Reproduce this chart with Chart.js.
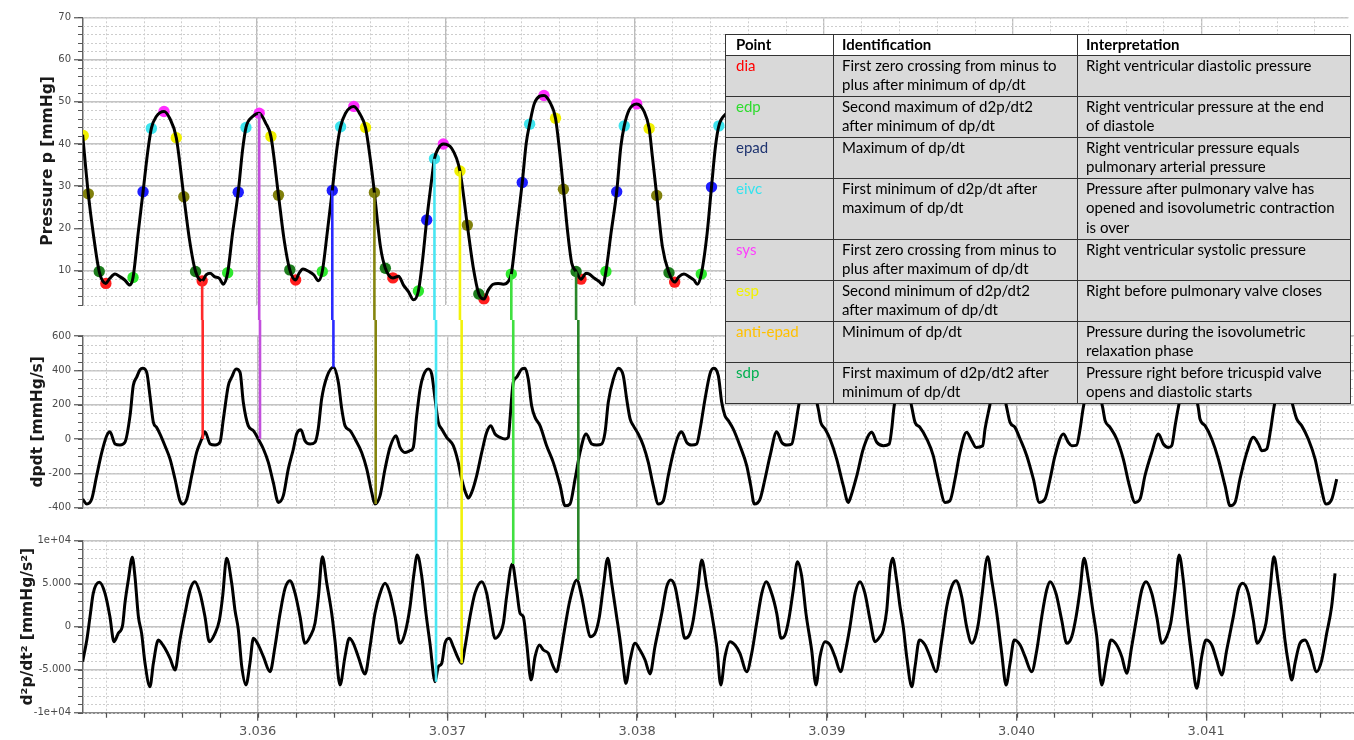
<!DOCTYPE html>
<html>
<head>
<meta charset="utf-8">
<script src="https://cdn.jsdelivr.net/npm/chart.js@4.4.1/dist/chart.umd.min.js"></script>
<style>
  body { margin: 0; background: #fff; width: 1354px; height: 740px; overflow: hidden; position: relative; }
  canvas { position: absolute; left: 0; }
  #pointTable { position: absolute; left: 725px; top: 34px; width: 625px; border-collapse: collapse; table-layout: fixed;
                font-family: Lato, "Open Sans", sans-serif; font-size: 15px; color: #000; z-index: 2; }
  #pointTable th, #pointTable td { border: 1px solid #333; padding: 0 0 0 8px; vertical-align: top; line-height: 19.5px;
                white-space: nowrap; overflow: hidden; text-align: left; }
  #pointTable th { background: #fff; font-weight: bold; }
  #pointTable td { background: #d9d9d9; }
  #pointTable tr > :first-child { padding-left: 10px; }
</style>
</head>
<body>
<canvas id="pressureChart" width="1354" height="320" style="top:0px"></canvas>
<canvas id="dpdtChart" width="1354" height="210" style="top:320px"></canvas>
<canvas id="d2pChart" width="1354" height="210" style="top:530px"></canvas>

<table id="pointTable">
  <colgroup><col style="width:108px"><col style="width:244px"><col style="width:273px"></colgroup>
  <tr style="height:20px"><th>Point</th><th>Identification</th><th>Interpretation</th></tr>
  <tr style="height:41px"><td style="color:#ff0000">dia</td><td>First zero crossing from minus to<br>plus after minimum of dp/dt</td><td>Right ventricular diastolic pressure</td></tr>
  <tr style="height:41px"><td style="color:#2fdc2f">edp</td><td>Second maximum of d2p/dt2<br>after minimum of dp/dt</td><td>Right ventricular pressure at the end<br>of diastole</td></tr>
  <tr style="height:41px"><td style="color:#1f3470">epad</td><td>Maximum of dp/dt</td><td>Right ventricular pressure equals<br>pulmonary arterial pressure</td></tr>
  <tr style="height:61px"><td style="color:#33e3ee">eivc</td><td>First minimum of d2p/dt after<br>maximum of dp/dt</td><td>Pressure after pulmonary valve has<br>opened and isovolumetric contraction<br>is over</td></tr>
  <tr style="height:41px"><td style="color:#ff3cff">sys</td><td>First zero crossing from minus to<br>plus after maximum of dp/dt</td><td>Right ventricular systolic pressure</td></tr>
  <tr style="height:41px"><td style="color:#f2f200">esp</td><td>Second minimum of d2p/dt2<br>after maximum of dp/dt</td><td>Right before pulmonary valve closes</td></tr>
  <tr style="height:41px"><td style="color:#ffc000">anti-epad</td><td>Minimum of dp/dt</td><td>Pressure during the isovolumetric<br>relaxation phase</td></tr>
  <tr style="height:41px"><td style="color:#00b050">sdp</td><td>First maximum of d2p/dt2 after<br>minimum of dp/dt</td><td>Pressure right before tricuspid valve<br>opens and diastolic starts</td></tr>
</table>

<script>
// time axis: every time below is in microseconds after T0 (seconds)
const T0 = 3.035;
const xMin = 3.035079, xMax = 3.041779;
const xTickValues = [3.036, 3.037, 3.038, 3.039, 3.040, 3.041];
const xTickLabels = ['3.036', '3.037', '3.038', '3.039', '3.040', '3.041'];

const pTicks = [10, 20, 30, 40, 50, 60, 70];
const pTickLabels = ['10', '20', '30', '40', '50', '60', '70'];
const dTicks = [-400, -200, 0, 200, 400, 600];
const dTickLabels = ['-400', '-200', '0', '200', '400', '600'];
const ddTicks = [-10000, -5000, 0, 5000, 10000];
const ddTickLabels = ['-1e+04', '-5.000', '0', '5.000', '1e+04'];

// pressure p [mmHg]
const pTime = [77,107,133,165,200,221,248,274,300,327,
  344,371,397,423,441,467,508,538,573,613,
  643,675,710,731,752,775,801,822,845,871,
  901,924,942,977,1012,1047,1074,1114,1144,1174,
  1205,1223,1244,1276,1302,1325,1346,1372,1399,1425,
  1443,1469,1513,1548,1575,1601,1622,1654,1680,1720,
  1750,1776,1803,1829,1855,1877,1899,1925,1940,1961,
  1987,2031,2075,2114,2145,2175,2202,2225,2251,2277,
  2304,2330,2347,2373,2405,2426,2444,2470,2520,2550,
  2581,2602,2623,2646,2667,2690,2716,2743,2760,2787,
  2813,2831,2848,2875,2905,2927,2945,2971,3011,3050,
  3077,3094,3117,3147,3182,3212,3235,3261,3288,3314,
  3332,3353,3384,3407,3428,3446,3490];
const pVal = [42.2,28.2,18.9,9.8,7.0,8.2,9.2,8.6,7.8,6.6,
  8.4,18.9,28.7,38.6,43.7,46.5,47.7,46.1,41.5,27.5,
  17.3,9.8,7.6,9.0,9.4,8.6,8.2,6.8,9.5,18.9,
  28.6,38.6,43.9,46.5,47.3,44.9,41.8,27.9,17.3,10.2,
  7.8,9.4,10.4,9.8,9.0,7.6,9.8,18.9,29.0,39.4,
  44.1,47.3,48.9,46.9,43.9,36.2,28.5,15.7,10.6,8.3,
  8.7,6.6,5.0,3.1,5.2,12.5,22.0,31.5,36.5,39.0,
  40.0,39.0,33.6,20.8,10.9,4.5,3.3,5.4,6.8,7.0,
  6.8,7.4,9.2,18.9,30.9,40.2,44.7,49.7,51.5,50.0,
  46.1,38.6,29.3,18.9,11.8,9.8,8.0,9.4,9.2,8.2,
  7.4,6.6,9.8,18.9,28.7,39.4,44.3,48.1,49.5,47.7,
  43.7,37.0,27.8,15.7,9.5,7.3,8.6,9.2,8.6,7.8,
  6.8,9.2,18.9,29.8,39.4,44.3,47.5];

// dp/dt [mmHg/s]
const dTime = [77,99,125,151,178,204,221,248,274,300,
  327,344,362,380,394,415,432,450,467,485,
  511,538,564,590,605,626,652,678,705,722,
  749,775,801,819,845,863,886,907,924,950,
  977,1003,1030,1056,1082,1109,1135,1161,1188,1205,
  1228,1249,1276,1302,1319,1337,1364,1399,1425,1443,
  1460,1487,1513,1548,1575,1601,1618,1645,1671,1697,
  1729,1750,1776,1803,1820,
  1838,1856,1873,1899,1917,1935,1952,1970,1996,2031,
  2057,2075,2102,2110,2128,2154,2181,2207,2228,2251,
  2277,2304,2321,2330,2347,2365,2392,2409,2426,2444,
  2462,2488,2523,2558,2594,2620,2646,2673,2699,2731,
  2761,2787,2813,2831,2848,2875,2901,2927,2945,2963,
  2980,3006,3033,3059,3085,3112,3138,3164,3191,3217,
  3235,3261,3288,3314,3332,3358,3384,3402,3428,3446,
  3463,3481,3507,3542,3578,3599,3618,3648,3674,3701,
  3736,3762,3789,3815,3832,3850,3897,3955,3968,3991,
  4017,4052,4087,4113,4122,4158,4192,4237,4263,4298,4329,
  4342,4354,4400,4448,4465,4491,4527,4561,4588,4623,
  4649,4676,4702,4737,4764,4787,4822,4834,4857,4901,
  4948,4966,4992,5019,5054,5089,5120,5150,5177,5203,
  5247,5273,5291,5317,5335,5352,5402,5454,5467,5493,
  5528,5563,5595,5625,5651,5677,5713,5748,5774,5800,
  5818,5836,5853,5900,5958,5967,5994,6029,6064,6099,
  6126,6152,6178,6214,6248,6275,6293,6319,6340,6357,
  6407,6459,6477,6503,6538,6574,6600,6632,6662,6688];
const dVal = [-350,-379,-350,-214,-78,19,42,-29,-35,-19,
  136,311,360,404,412,388,252,97,68,29,
  -39,-117,-233,-360,-379,-350,-214,-78,0,42,
  -29,-35,-19,117,311,360,408,388,214,78,
  49,0,-58,-136,-253,-369,-330,-175,-58,29,
  54,-10,-29,-19,58,233,360,418,330,175,
  78,49,0,-78,-175,-311,-379,-330,-175,-49,
  19,-49,-78,-68,-49,
  136,292,369,408,379,233,97,58,10,-39,
  -136,-233,-330,-344,-311,-214,-78,39,78,29,
  10,0,10,117,330,360,408,412,350,194,
  126,78,-39,-136,-272,-389,-379,-233,-78,29,
  -29,-35,-29,39,214,350,412,369,233,117,
  78,29,-39,-136,-272,-379,-360,-214,-78,19,
  42,-19,-35,-29,58,233,379,412,369,214,
  136,107,58,-39,-156,-272,-379,-350,-233,-97,
  42,-19,-35,-29,58,184,410,175,97,58,
  0,-117,-272,-369,-350,-214,-58,39,-19,-39,-29,
  58,184,408,184,97,68,0,-97,-233,-369,
  -360,-233,-78,39,-10,-49,-39,58,184,408,
  184,97,68,0,-97,-233,-369,-350,-233,-97,
  29,-19,-39,-35,58,184,408,184,107,68,
  0,-117,-272,-369,-350,-214,-78,29,-29,-49,
  -39,78,184,408,184,117,78,0,-117,-272,
  -389,-369,-233,-78,10,-29,-68,-58,58,184,
  408,184,117,78,0,-117,-253,-379,-350,-233];

// d2p/dt2 [mmHg/s2]
const ddTime = [77,99,116,133,165,195,221,242,265,288,
  300,318,339,353,371,388,406,432,450,476,
  494,511,538,564,590,617,643,669,696,722,
  745,775,798,815,836,863,880,898,916,938,
  959,977,1003,1030,1065,1091,1118,1144,1170,1197,
  1223,1249,1276,1302,1320,1341,1364,1390,1407,1434,
  1460,1483,1504,1530,1566,1592,1618,1645,1671,1697,
  1724,1750,1776,1803,1824,1841,1865,1887,1908,1935,
  1952,1970,1987,2010,2031,2057,2075,2093,2119,2145,
  2181,2207,2225,2251,2277,2295,2312,2342,2365,2383,
  2400,2418,2441,2462,2485,2506,2532,2558,2576,2594,
  2620,2646,2682,2708,2734,2752,2778,2801,2822,2845,
  2866,2892,2910,2927,2941,2963,2989,3015,3042,3068,
  3094,3130,3156,3177,3200,3226,3252,3279,3296,3319,
  3341,3367,3393,3420,3441,3463,3490,3516,3542,3578,
  3604,3630,3657,3680,3709,3736,3759,3780,3802,3823,
  3845,3868,3890,3920,3943,3964,3991,4017,4043,4073,
  4096,4122,4149,4175,4201,4228,4254,4280,4298,4316,
  4333,4347,4368,4386,4403,4421,4448,4465,4488,4518,
  4544,4576,4606,4632,4658,4681,4711,4737,4764,4781,
  4799,4817,4848,4869,4896,4922,4945,4966,4988,5019,
  5045,5080,5107,5133,5159,5177,5208,5238,5265,5291,
  5314,5335,5356,5379,5402,5423,5449,5475,5498,5528,
  5555,5581,5607,5634,5660,5683,5713,5739,5766,5792,
  5813,5836,5857,5879,5900,5924,5950,5976,5999,6029,
  6055,6082,6108,6143,6169,6192,6222,6248,6269,6292,
  6315,6336,6357,6380,6398,6415,6433,6451,6468,6494,
  6521,6547,6582,6609,6635,6661,6679];
const ddVal = [-4067,-1547,1167,3881,5160,3881,1167,-1741,-772,198,
  2718,5431,8067,5819,1167,-772,-4260,-6974,-4260,-1547,
  -1934,-2516,-3679,-5036,-1547,1555,4268,5237,3881,1167,
  -1741,-772,779,3493,7951,5044,1942,-384,-4648,-6780,
  -4260,-1353,-2128,-3485,-5230,-2322,1555,4462,5354,3881,
  1167,-1934,-1159,392,3493,8145,5044,1555,-1547,-6780,
  -3485,-1353,-1934,-3485,-5500,-2322,1555,3881,5044,3881,
  1167,-1934,-772,2330,6207,8339,5819,1555,-1934,-6393,
  -4648,-4260,-1934,-1353,-2322,-3679,-4260,-2322,1167,3881,
  5237,3881,1555,-1353,-772,392,3493,7300,4268,1555,
  1167,-1934,-6199,-3485,-2128,-2710,-3097,-4648,-5230,-3485,
  4,3105,5431,3493,392,-1159,-772,1167,4656,7951,
  5044,1167,-1547,-4648,-6586,-3873,-1934,-2710,-3873,-5500,
  -2322,1555,4656,5431,4656,1555,-1353,-772,779,4268,
  7757,4656,1555,-2322,-6780,-3485,-1741,-2128,-3097,-5230,
  -3097,392,3881,5237,3881,1555,-1353,-965,1167,4268,
  7563,5819,1555,-2710,-6780,-3485,-1741,-2128,-3485,-5230,
  -3097,4,3881,5237,3881,779,-1741,-1159,-384,1942,
  6594,7951,5431,2330,4,-3485,-6974,-4648,-1547,-2128,
  -3485,-5230,-1547,2330,4656,5354,3493,4,-1934,-1353,
  392,3493,8145,5431,1555,-3097,-6780,-4260,-1547,-2128,
  -3485,-5230,-2710,1167,4268,5237,3881,779,-1934,-1159,
  1167,4268,7951,5431,1942,-1159,-6780,-3873,-1547,-2128,
  -3485,-5423,-2322,1167,4268,5237,3881,1167,-1934,-1159,
  392,4268,8339,5431,779,-3485,-7168,-3485,-1547,-2128,
  -3873,-5617,-2710,1167,4268,5044,3881,779,-1934,-1159,
  392,4268,8145,5044,1942,-1547,-4260,-6199,-4260,-1934,
  -1547,-2710,-5230,-3873,-772,2330,6207];

// feature points on the pressure curve (time µs, pressure mmHg)
const sdpTime = [165,675,1174,1680,2175,2690,3182];
const sdpVal  = [9.8,9.8,10.2,10.6,4.5,9.8,9.5];
const diaTime = [200,710,1205,1720,2202,2716,3212];
const diaVal  = [7.0,7.6,7.8,8.3,3.3,8.0,7.3];
const edpTime = [344,845,1346,1855,2347,2848,3353];
const edpVal  = [8.4,9.5,9.8,5.2,9.2,9.8,9.2];
const epadTime = [397,901,1399,1899,2405,2905,3407];
const epadVal  = [28.7,28.6,29.0,22.0,30.9,28.7,29.8];
const eivcTime = [441,942,1443,1940,2444,2945,3446];
const eivcVal  = [43.7,43.9,44.1,36.5,44.7,44.3,44.3];
const sysTime = [508,1012,1513,1987,2520,3011];
const sysVal  = [47.7,47.3,48.9,40.0,51.5,49.5];
const espTime = [80,573,1074,1575,2075,2581,3077];
const espVal  = [42.0,41.5,41.8,43.9,33.6,46.1,43.7];
const antiEpadTime = [107,613,1114,1622,2114,2623,3117];
const antiEpadVal  = [28.2,27.5,27.9,28.5,20.8,29.3,27.8];

// vertical links: from a pressure point down to the derivative it is defined by
const linkName  = ['dia','sys','epad','antiEpad','eivc','esp','edp','sdp'];
const linkTime  = [710,1012,1399,1622,1940,2075,2347,2690];
const linkFrom  = [7.6,47.3,29.0,28.5,36.5,33.6,9.2,9.8];
const linkPanel = ['dpdt','dpdt','dpdt','dpdt','d2p','d2p','d2p','d2p'];
const linkTo    = [0,0,418,-379,-6400,-4260,7300,5430];

const markColor = { sdp:'#1d7d1d', dia:'#ff1e1e', edp:'#2ee82e', epad:'#1e1eff',
                    eivc:'#3ee4ee', sys:'#ff2eff', esp:'#f0f000', antiEpad:'#80800c' };
const linkColor = { dia:'#ff2a2a', sys:'#c24edc', epad:'#2a2aff', antiEpad:'#85850f',
                    eivc:'#48e6f2', esp:'#f2f20a', edp:'#40e040', sdp:'#2a862a' };

function toXY(ts, vs) {
  return ts.map((t, i) => ({ x: T0 + t * 1e-6, y: vs[i] }));
}

// dotted minor grid + short minor tick marks
const xMinorStep = 0.0002;
const minorGrid = {
  id: 'minorGrid',
  beforeDatasetsDraw(chart, args, opts) {
    const { ctx, chartArea: a, scales: { x, y } } = chart;
    ctx.save();
    ctx.strokeStyle = '#cdcdcd';
    ctx.lineWidth = 1;
    ctx.setLineDash([2, 2]);
    ctx.beginPath();
    for (let k = Math.ceil(x.min / xMinorStep); k * xMinorStep <= x.max; k++) {
      const px = Math.round(x.getPixelForValue(k * xMinorStep)) + 0.5;
      ctx.moveTo(px, a.top); ctx.lineTo(px, a.bottom);
    }
    for (let k = Math.ceil(y.min / opts.yStep); k * opts.yStep <= y.max; k++) {
      const py = Math.round(y.getPixelForValue(k * opts.yStep)) + 0.5;
      ctx.moveTo(a.left, py); ctx.lineTo(a.right, py);
    }
    ctx.stroke();
    ctx.setLineDash([]);
    ctx.strokeStyle = '#555';
    ctx.lineWidth = 1.2;
    ctx.beginPath();
    for (let k = Math.ceil(y.min / opts.yStep); k * opts.yStep <= y.max; k++) {
      const py = Math.round(y.getPixelForValue(k * opts.yStep)) + 0.5;
      ctx.moveTo(a.left - 5, py); ctx.lineTo(a.left, py);
    }
    if (opts.xTicks) {
      for (let k = Math.ceil(x.min / xMinorStep); k * xMinorStep <= x.max; k++) {
        const px = Math.round(x.getPixelForValue(k * xMinorStep)) + 0.5;
        ctx.moveTo(px, a.bottom); ctx.lineTo(px, a.bottom + 5);
      }
    }
    ctx.stroke();
    ctx.restore();
  }
};

// coloured vertical links, drawn right after the curve so the markers sit on top
const links = {
  id: 'links',
  afterDatasetDraw(chart, args, opts) {
    if (args.index !== 0) return;
    const { ctx, scales: { x, y } } = chart;
    const H = chart.height;
    ctx.save();
    ctx.lineWidth = 2.6;
    linkName.forEach((name, i) => {
      const px = x.getPixelForValue(T0 + linkTime[i] * 1e-6);
      let y0, y1;
      if (opts.panel === 'pressure') { y0 = y.getPixelForValue(linkFrom[i]); y1 = H; }
      else if (opts.panel === linkPanel[i]) { y0 = 0; y1 = y.getPixelForValue(linkTo[i]); }
      else if (opts.panel === 'dpdt' && linkPanel[i] === 'd2p') { y0 = 0; y1 = H; }
      else return;
      ctx.strokeStyle = linkColor[name];
      ctx.beginPath(); ctx.moveTo(px, y0); ctx.lineTo(px, y1); ctx.stroke();
    });
    ctx.restore();
  }
};

function curve(data) {
  return { data, borderColor: '#000', borderWidth: 3, pointRadius: 0,
           cubicInterpolationMode: 'monotone', order: 0 };
}

function markers(name, ts, vs) {
  return { data: toXY(ts, vs), showLine: false, pointRadius: 5.7, pointBorderWidth: 0,
           pointBackgroundColor: markColor[name], borderColor: markColor[name] };
}

function makePanel(id, cfg) {
  const canvas = document.getElementById(id);
  const H = canvas.height;
  return new Chart(canvas, {
    type: 'line',
    data: { datasets: cfg.datasets },
    options: {
      responsive: false,
      animation: false,
      events: [],
      layout: { padding: { top: cfg.top, left: 0, right: 0, bottom: 0 } },
      plugins: {
        legend: { display: false },
        tooltip: { enabled: false },
        minorGrid: { yStep: cfg.yStep, xTicks: cfg.xLabels },
        links: { panel: cfg.panel }
      },
      scales: {
        x: {
          type: 'linear', min: xMin, max: xMax,
          afterBuildTicks: ax => { ax.ticks = xTickValues.map(v => ({ value: v })); },
          afterFit: ax => { ax.height = H - cfg.bottom; },
          grid: { color: '#bcbcbc', lineWidth: 1.3, drawTicks: cfg.xLabels, tickLength: 8,
                  tickColor: '#666', tickWidth: 1.3 },
          border: { display: cfg.xLabels, color: '#8a8a8a', width: 2 },
          ticks: { display: cfg.xLabels, callback: (v, i) => xTickLabels[i], maxRotation: 0,
                   font: { family: 'DejaVu Sans', size: 13 }, color: '#555', padding: 3 }
        },
        y: {
          type: 'linear', min: cfg.yMin, max: cfg.yMax,
          afterBuildTicks: ax => { ax.ticks = cfg.yTicks.map(v => ({ value: v })); },
          afterFit: ax => { ax.width = 83; },
          grid: { color: '#c4c4c4', lineWidth: 1.5, tickLength: 9, tickColor: '#555', tickWidth: 1.2 },
          border: { color: '#666', width: 1.5 },
          ticks: { callback: (v, i) => cfg.yLabels[i], font: { family: 'DejaVu Sans', size: 10 },
                   color: '#4a4a4a', padding: 3 },
          title: { display: true, text: cfg.title, color: '#1a1a1a',
                   font: { family: 'DejaVu Sans', size: 15.5, weight: 'bold' },
                   padding: { top: cfg.titlePad, bottom: 0 } }
        }
      }
    },
    plugins: [minorGrid, links]
  });
}

makePanel('pressureChart', {
  panel: 'pressure', top: 17.3, bottom: 304.5, yMin: 2, yMax: 70, yStep: 2,
  yTicks: pTicks, yLabels: pTickLabels, title: 'Pressure p [mmHg]', titlePad: 38.5, xLabels: false,
  datasets: [
    curve(toXY(pTime, pVal)),
    markers('sdp', sdpTime, sdpVal),
    markers('dia', diaTime, diaVal),
    markers('edp', edpTime, edpVal),
    markers('epad', epadTime, epadVal),
    markers('eivc', eivcTime, eivcVal),
    markers('sys', sysTime, sysVal),
    markers('esp', espTime, espVal),
    markers('antiEpad', antiEpadTime, antiEpadVal)
  ]
});

makePanel('dpdtChart', {
  panel: 'dpdt', top: 16, bottom: 187.7, yMin: -400, yMax: 600, yStep: 50,
  yTicks: dTicks, yLabels: dTickLabels, title: 'dpdt [mmHg/s]', titlePad: 28.5, xLabels: false,
  datasets: [curve(toXY(dTime, dVal))]
});

makePanel('d2pChart', {
  panel: 'd2p', top: 10.7, bottom: 182.7, yMin: -10000, yMax: 10000, yStep: 1000,
  yTicks: ddTicks, yLabels: ddTickLabels, title: 'd²p/dt² [mmHg/s²]', titlePad: 18.5, xLabels: true,
  datasets: [curve(toXY(ddTime, ddVal))]
});
</script>
</body>
</html>
